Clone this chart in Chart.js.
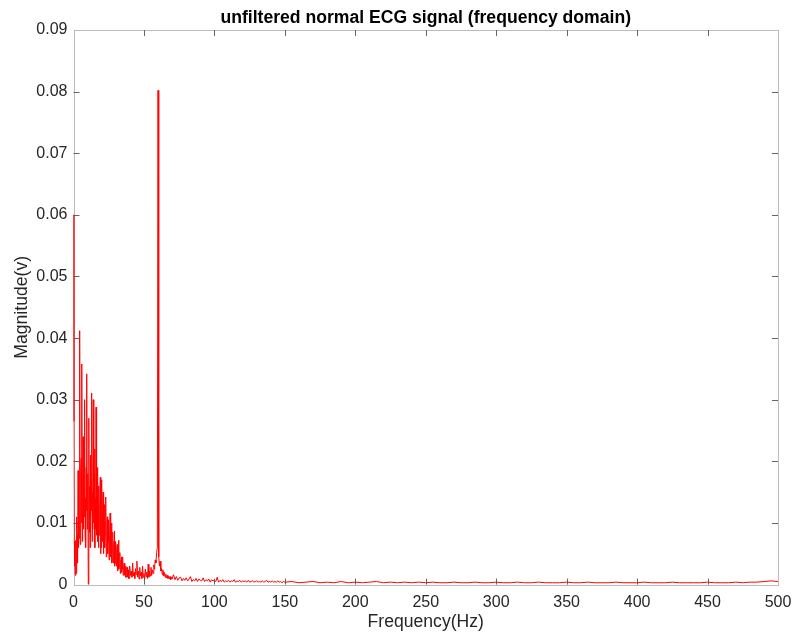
<!DOCTYPE html>
<html>
<head>
<meta charset="utf-8">
<script src="https://cdn.jsdelivr.net/npm/chart.js@4/dist/chart.umd.min.js"></script>
<style>
  html, body { margin: 0; padding: 0; background: #fff; }
  canvas { display: block; }
</style>
</head>
<body>
<canvas id="ecgChart" width="792" height="636"></canvas>
<script>
// magnitude spectrum
// 0 - 40 Hz, one value every 0.25 Hz
const lowStart = 0, lowStep = 0.25
const lowMag = [
  0.0600, 0.0265, 0.0070, 0.0030, 0.0045, 0.0015, 0.0072, 0.0025,
  0.0018, 0.0110, 0.0035, 0.0080, 0.0035, 0.0185, 0.0060, 0.0120,
  0.0075, 0.0160, 0.0412, 0.0065, 0.0090, 0.0190, 0.0205, 0.0100,
  0.0358, 0.0070, 0.0150, 0.0240, 0.0090, 0.0200, 0.0110, 0.0170,
  0.0300, 0.0080, 0.0140, 0.0060, 0.0190, 0.0120, 0.0342, 0.0090,
  0.0100, 0.0180, 0.0000, 0.0140, 0.0270, 0.0085, 0.0160, 0.0060,
  0.0210, 0.0110, 0.0170, 0.0120, 0.0311, 0.0070, 0.0150, 0.0090,
  0.0300, 0.0100, 0.0130, 0.0180, 0.0220, 0.0060, 0.0140, 0.0090,
  0.0288, 0.0080, 0.0110, 0.0150, 0.0190, 0.0070, 0.0130, 0.0060,
  0.0160, 0.0080, 0.0095, 0.0130, 0.0174, 0.0050, 0.0110, 0.0060,
  0.0170, 0.0070, 0.0085, 0.0120, 0.0150, 0.0050, 0.0065, 0.0100,
  0.0130, 0.0060, 0.0080, 0.0110, 0.0142, 0.0045, 0.0055, 0.0090,
  0.0110, 0.0050, 0.0070, 0.0095, 0.0105, 0.0040, 0.0045, 0.0080,
  0.0116, 0.0045, 0.0060, 0.0085, 0.0100, 0.0035, 0.0040, 0.0070,
  0.0085, 0.0035, 0.0050, 0.0070, 0.0087, 0.0030, 0.0035, 0.0060,
  0.0070, 0.0030, 0.0045, 0.0055, 0.0065, 0.0022, 0.0028, 0.0050,
  0.0072, 0.0025, 0.0030, 0.0045, 0.0052, 0.0018, 0.0022, 0.0040,
  0.0045, 0.0020, 0.0025, 0.0035, 0.0045, 0.0015, 0.0015, 0.0030,
  0.0035, 0.0015, 0.0020, 0.0028, 0.0030, 0.0012, 0.0012, 0.0025,
  0.0028, 0.0012, 0.0018, 0.0022, 0.0024, 0.0010, 0.0010, 0.0020,
  0.0030
]
// 40.5 - 70 Hz, every 0.5 Hz (60 Hz mains peak)
const humStart = 40.5, humStep = 0.5
const humMag = [
  0.0015, 0.0022, 0.0012, 0.0035, 0.0014, 0.0020, 0.0010, 0.0026, 0.0016,
  0.0038, 0.0012, 0.0022, 0.0009, 0.0028, 0.0014, 0.0020, 0.0010, 0.0030, 0.0012,
  0.0018, 0.0009, 0.0025, 0.0013, 0.0020, 0.0010, 0.0033, 0.0012, 0.0022, 0.0014,
  0.0028, 0.0015, 0.0024, 0.0018, 0.0032, 0.0025, 0.0040, 0.0035, 0.0052, 0.0060,
  0.0802, 0.0045, 0.0030, 0.0038, 0.0022, 0.0026, 0.0016, 0.0024, 0.0014, 0.0020,
  0.0012, 0.0017, 0.0011, 0.0015, 0.0010, 0.0014, 0.0009, 0.0013, 0.0008, 0.0012,
  0.0009
]
// 71 - 150 Hz, every 1 Hz
const midStart = 71, midStep = 1
const midMag = [
  0.0016, 0.0008, 0.0013, 0.0007, 0.0011, 0.0012, 0.0006, 0.0010, 0.0007, 0.0011,
  0.0006, 0.0009, 0.0013, 0.0005, 0.0008, 0.0006, 0.0010, 0.0005, 0.0009, 0.0007,
  0.0006, 0.0011, 0.0005, 0.0008, 0.0006, 0.0009, 0.0004, 0.0008, 0.0006, 0.0007,
  0.0005, 0.0012, 0.0004, 0.0007, 0.0005, 0.0008, 0.0004, 0.0006, 0.0005, 0.0007,
  0.0004, 0.0006, 0.0005, 0.0008, 0.0004, 0.0006, 0.0005, 0.0007, 0.0004, 0.0006,
  0.0005, 0.0006, 0.0004, 0.0007, 0.0004, 0.0005, 0.0006, 0.0004, 0.0005, 0.0006,
  0.0004, 0.0005, 0.0004, 0.0006, 0.0004, 0.0005, 0.0007, 0.0004, 0.0005, 0.0004,
  0.0006, 0.0004, 0.0005, 0.0004, 0.0006, 0.0004, 0.0005, 0.0003, 0.0005, 0.0004
]
// 155 - 500 Hz, every 5 Hz
const highStart = 155, highStep = 5
const highMag = [
  0.0005, 0.0003, 0.0004, 0.0005, 0.0003, 0.0004, 0.0003, 0.0005, 0.0003, 0.0004,
  0.0003, 0.0004, 0.0005, 0.0003, 0.0004, 0.0003, 0.0004, 0.0003, 0.0004, 0.0003,
  0.0004, 0.0003, 0.0003, 0.0004, 0.0003, 0.0003, 0.0004, 0.0003, 0.0003, 0.0004,
  0.0003, 0.0003, 0.0004, 0.0003, 0.0003, 0.0004, 0.0003, 0.0003, 0.0003, 0.0004,
  0.0003, 0.0003, 0.0004, 0.0003, 0.0003, 0.0003, 0.0004, 0.0003, 0.0003, 0.0003,
  0.0004, 0.0003, 0.0003, 0.0003, 0.0004, 0.0003, 0.0003, 0.0003, 0.0003, 0.0004,
  0.0003, 0.0003, 0.0003, 0.0004, 0.0003, 0.0004, 0.0004, 0.0005, 0.0006, 0.0005
]

const xTicks = [0, 50, 100, 150, 200, 250, 300, 350, 400, 450, 500]
const yTicks = [0, 0.01, 0.02, 0.03, 0.04, 0.05, 0.06, 0.07, 0.08, 0.09]
const titleText = 'unfiltered normal ECG signal (frequency domain)'

function toPoints(start, step, mags) {
    return mags.map(function(v, i) { return {x: start + i * step, y: v} })
}
let points = toPoints(lowStart, lowStep, lowMag)
    .concat(toPoints(humStart, humStep, humMag))
    .concat(toPoints(midStart, midStep, midMag))
    .concat(toPoints(highStart, highStep, highMag))

const family = "'Liberation Sans', Arial, sans-serif"
const tickFont = {family: family, size: 16}
const labelFont = {family: family, size: 17.6}

// matlab style box with inward ticks on all four sides, title centred on the axes
const boxPlugin = {
    id: 'box',
    beforeDatasetsDraw(chart) {
        const ctx = chart.ctx
        const a = chart.chartArea
        const x = chart.scales.x, y = chart.scales.y
        ctx.save()
        ctx.lineWidth = 1
        ctx.strokeStyle = '#bcbcbc'
        ctx.strokeRect(Math.round(a.left) + 0.5, Math.round(a.top) + 0.5,
            Math.round(a.right) - Math.round(a.left), Math.round(a.bottom) - Math.round(a.top))
        ctx.strokeStyle = '#666'
        ctx.beginPath()
        for (const t of xTicks.slice(1, -1)) {
            const px = Math.round(x.getPixelForValue(t)) + 0.5
            ctx.moveTo(px, a.bottom); ctx.lineTo(px, a.bottom - 6)
            ctx.moveTo(px, a.top); ctx.lineTo(px, a.top + 6)
        }
        for (const t of yTicks.slice(1, -1)) {
            const py = Math.round(y.getPixelForValue(t)) + 0.5
            ctx.moveTo(a.left, py); ctx.lineTo(a.left + 6, py)
            ctx.moveTo(a.right, py); ctx.lineTo(a.right - 6, py)
        }
        ctx.stroke()
        ctx.restore()
    },
    afterDraw(chart) {
        const ctx = chart.ctx
        const a = chart.chartArea
        ctx.save()
        ctx.fillStyle = '#000'
        ctx.font = 'bold 17.6px ' + family
        ctx.textAlign = 'center'
        ctx.textBaseline = 'alphabetic'
        ctx.fillText(titleText, (a.left + a.right) / 2, 22.5)
        ctx.restore()
    }
}

new Chart(document.getElementById('ecgChart'), {
    type: 'line',
    data: {
        datasets: [{
            data: points,
            borderColor: '#ff0000',
            borderWidth: 1,
            pointRadius: 0,
            tension: 0
        }]
    },
    options: {
        responsive: false,
        animation: false,
        layout: {padding: {left: 0, right: 14, top: 30, bottom: 0}},
        plugins: {
            legend: {display: false},
            tooltip: {enabled: false},
            title: {display: false}
        },
        scales: {
            x: {
                type: 'linear',
                min: 0,
                max: 500,
                afterBuildTicks: function(s) { s.ticks = xTicks.map(function(v) { return {value: v} }) },
                ticks: {color: '#262626', font: tickFont, padding: 8, maxRotation: 0, autoSkip: false},
                grid: {display: false, drawTicks: false},
                border: {display: false},
                title: {display: true, text: 'Frequency(Hz)', color: '#262626', font: labelFont, padding: {top: 0, bottom: 3.4}},
                afterFit: function(s) {
                    s.height = 51.4
                    s.paddingLeft = 0
                    s.paddingRight = 0
                }
            },
            y: {
                type: 'linear',
                min: 0,
                max: 0.09,
                afterBuildTicks: function(s) { s.ticks = yTicks.map(function(v) { return {value: v} }) },
                ticks: {
                    color: '#262626', font: tickFont, padding: 6, autoSkip: false,
                    callback: function(v) { return v === 0 ? '0' : v.toFixed(2) }
                },
                grid: {display: false, drawTicks: false},
                border: {display: false},
                title: {display: true, text: 'Magnitude(v)', color: '#262626', font: labelFont, padding: {top: 11.4, bottom: 0}},
                afterFit: function(s) {
                    s.width = 73.5
                    s.paddingTop = 0
                    s.paddingBottom = 0
                }
            }
        }
    },
    plugins: [boxPlugin]
})
</script>
</body>
</html>
